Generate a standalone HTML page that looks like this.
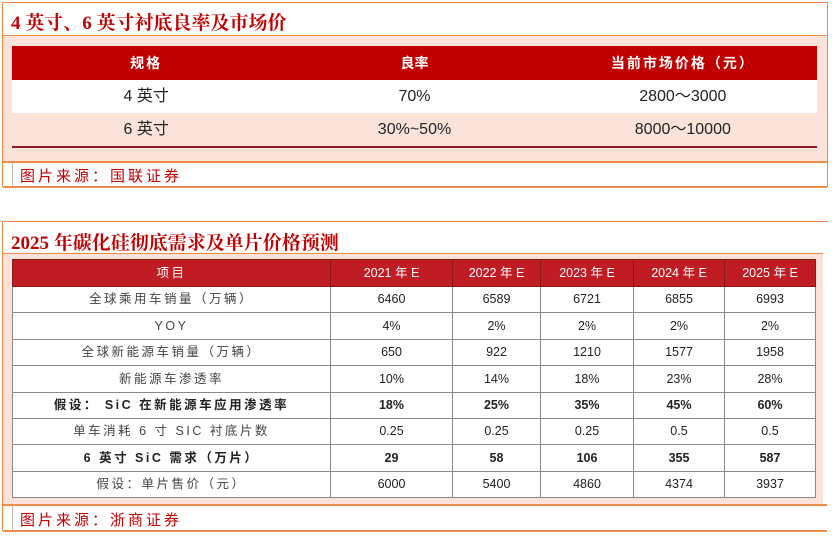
<!DOCTYPE html>
<html><head><meta charset="utf-8"><style>
*{margin:0;padding:0;box-sizing:border-box}
body{width:832px;height:537px;background:#fff;position:relative;overflow:hidden;font-family:"Liberation Sans","Noto Sans CJK SC",sans-serif}
.abs{position:absolute}
.title{font-family:"Liberation Serif","Noto Serif CJK SC",serif;font-weight:bold;color:#c00000;font-size:19px}
.src{color:#c00000;font-size:15px;letter-spacing:3px}
table{border-collapse:collapse;position:absolute;table-layout:fixed}
td{text-align:center;vertical-align:middle;color:#222;padding:0;line-height:1}
.t1 td{font-size:16px}
.t2 td{border:1px solid #888;font-size:12.5px;height:26.4px}
.t2 td:first-child{letter-spacing:2.5px;color:#444}
.t2 tr.h td{background:#c01c24;color:#fff;height:27px;border-color:#8a1a1a}
.b td, .t2 .b td:first-child{font-weight:bold;color:#222}
</style></head><body>
<div class="abs" style="left:2px;top:2px;width:826px;height:185px;border:1px solid #ee8a4a;border-bottom:none"></div>
<div class="abs title" style="left:11px;top:8px">4 英寸、6 英寸衬底良率及市场价</div>
<div class="abs" style="left:3px;top:35px;width:824px;height:126px;background:#fbe3d9;border-top:1px solid #ee8a4a"></div>
<table class="t1" style="left:12px;top:46px;width:805px">
<tr style="background:#c00000;height:34px"><td style="color:#fff;font-weight:bold;font-size:14px;letter-spacing:2px">规格</td><td style="color:#fff;font-weight:bold;font-size:14px">良率</td><td style="color:#fff;font-weight:bold;font-size:14px;letter-spacing:2px">当前市场价格（元）</td></tr>
<tr style="background:#fff;height:33px"><td>4 英寸</td><td>70%</td><td>2800～3000</td></tr>
<tr style="background:#fbe3d9;height:34px;border-bottom:2px solid #8b1a2a"><td>6 英寸</td><td>30%~50%</td><td>8000～10000</td></tr>
</table>
<div class="abs" style="left:3px;top:161px;width:824px;height:2px;background:#ee8a4a"></div>
<div class="abs" style="left:12px;top:163px;width:1px;height:23px;background:#bbb"></div>
<div class="abs src" style="left:20px;top:165px">图片来源：国联证券</div>
<div class="abs" style="left:3px;top:186px;width:824px;height:2px;background:#ee8a4a"></div>

<div class="abs" style="left:2px;top:221px;width:826px;height:310px;border-top:1px solid #ee8a4a;border-left:1px solid #ee8a4a"></div>
<div class="abs title" style="left:11px;top:228px">2025 年碳化硅彻底需求及单片价格预测</div>
<div class="abs" style="left:3px;top:253px;width:820px;height:251px;background:#fbe3d9;border-top:1px solid #ee8a4a"></div>
<table class="t2" style="left:12px;top:259px;width:803px;background:#fff">
<colgroup><col style="width:318px"><col style="width:122px"><col style="width:88px"><col style="width:93px"><col style="width:91px"><col style="width:91px"></colgroup>
<tr class="h"><td style="color:#fff">项目</td><td>2021 年 E</td><td>2022 年 E</td><td>2023 年 E</td><td>2024 年 E</td><td>2025 年 E</td></tr>
<tr><td>全球乘用车销量（万辆）</td><td>6460</td><td>6589</td><td>6721</td><td>6855</td><td>6993</td></tr>
<tr><td>YOY</td><td>4%</td><td>2%</td><td>2%</td><td>2%</td><td>2%</td></tr>
<tr><td>全球新能源车销量（万辆）</td><td>650</td><td>922</td><td>1210</td><td>1577</td><td>1958</td></tr>
<tr><td>新能源车渗透率</td><td>10%</td><td>14%</td><td>18%</td><td>23%</td><td>28%</td></tr>
<tr class="b"><td>假设： SiC 在新能源车应用渗透率</td><td>18%</td><td>25%</td><td>35%</td><td>45%</td><td>60%</td></tr>
<tr><td>单车消耗 6 寸 SIC 衬底片数</td><td>0.25</td><td>0.25</td><td>0.25</td><td>0.5</td><td>0.5</td></tr>
<tr class="b"><td>6 英寸 SiC 需求（万片）</td><td>29</td><td>58</td><td>106</td><td>355</td><td>587</td></tr>
<tr><td>假设：单片售价（元）</td><td>6000</td><td>5400</td><td>4860</td><td>4374</td><td>3937</td></tr>
</table>
<div class="abs" style="left:3px;top:504px;width:824px;height:2px;background:#ee8a4a"></div>
<div class="abs" style="left:12px;top:506px;width:1px;height:24px;background:#bbb"></div>
<div class="abs src" style="left:20px;top:509px">图片来源：浙商证券</div>
<div class="abs" style="left:3px;top:530px;width:824px;height:2px;background:#ee8a4a"></div>
</body></html>
